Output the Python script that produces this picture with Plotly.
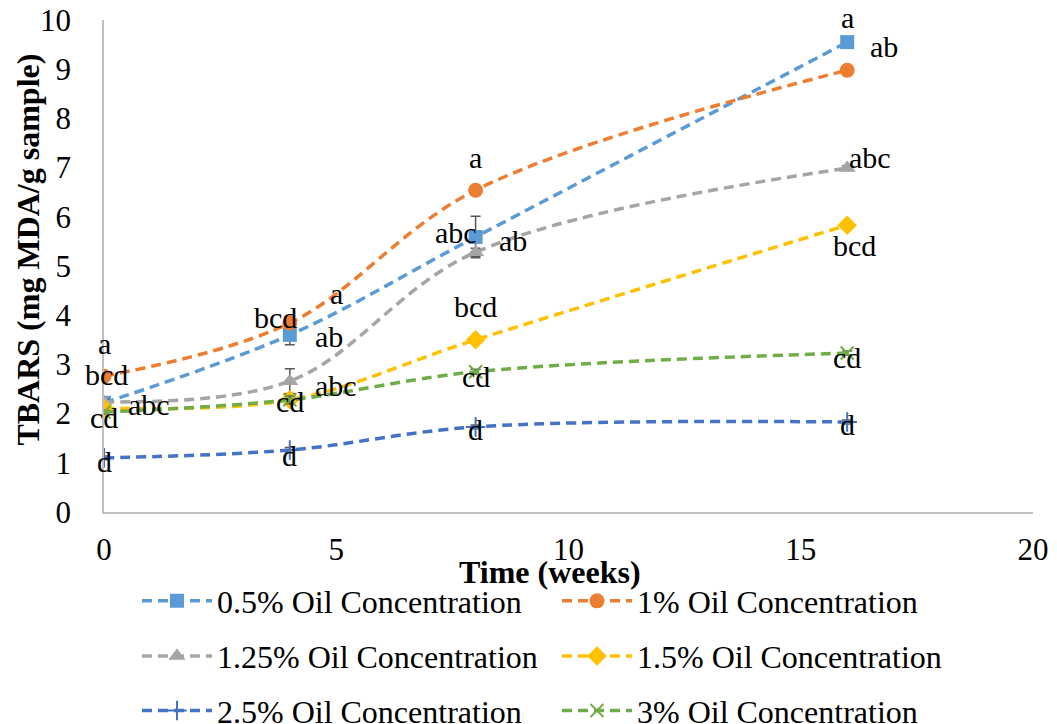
import plotly.graph_objects as go

# ---- data ----
weeks = [0, 4, 8, 16]
series_names = ["0.5% Oil Concentration", "1% Oil Concentration",
                "1.25% Oil Concentration", "1.5% Oil Concentration",
                "2.5% Oil Concentration", "3% Oil Concentration"]
tbars_05 = [2.22, 3.60, 5.59, 9.55]
tbars_10 = [2.76, 3.84, 6.54, 8.98]
tbars_125 = [2.24, 2.66, 5.28, 6.99]
tbars_15 = [2.11, 2.28, 3.50, 5.83]
tbars_25 = [1.10, 1.26, 1.73, 1.83]
tbars_30 = [2.03, 2.28, 2.85, 3.23]
err_05 = [0.05, 0.20, 0.42, 0.05]
err_10 = [0.05, 0.05, 0.05, 0.05]
err_125 = [0.05, 0.25, 0.08, 0.05]
err_15 = [0.04, 0.05, 0.06, 0.04]
err_25 = [0.04, 0.05, 0.04, 0.04]
err_30 = [0.04, 0.08, 0.05, 0.04]
values = [tbars_05, tbars_10, tbars_125, tbars_15, tbars_25, tbars_30]
errors = [err_05, err_10, err_125, err_15, err_25, err_30]

# significance letters: (series index, point index, text)
letters = [
    (1, 0, "a"), (1, 0, "bcd"), (0, 0, "abc"), (5, 0, "cd"), (4, 0, "d"),
    (1, 1, "bcd"), (1, 1, "a"), (0, 1, "ab"), (2, 1, "abc"), (5, 1, "cd"), (4, 1, "d"),
    (1, 2, "a"), (0, 2, "abc"), (2, 2, "ab"), (3, 2, "bcd"), (5, 2, "cd"), (4, 2, "d"),
    (0, 3, "a"), (0, 3, "ab"), (2, 3, "abc"), (3, 3, "bcd"), (5, 3, "cd"), (4, 3, "d"),
]
x_ticks = [0, 5, 10, 15, 20]
y_ticks = list(range(0, 11))

# ---- styles ----
colors = ["#5B9BD5", "#ED7D31", "#A5A5A5", "#FFC000", "#4472C4", "#70AD47"]
symbols = ["square", "circle", "triangle-up", "diamond", "cross-thin", "x-thin"]
msizes = [14, 15, 15, 15, 14, 13]
legend_ids = ["legend", "legend2", "legend3", "legend4", "legend5", "legend6"]
legend_pos = [(0.0355, -0.181), (0.4876, -0.181), (0.0355, -0.293), (0.4876, -0.293),
              (0.0355, -0.404), (0.4876, -0.404)]
letter_shifts = [
    (0, 33), (2, 2), (45, -2), (0, -5), (0, -4),
    (-14, 6), (47, 30), (39, -2), (46, -4), (0, -2), (0, -5),
    (0, 33), (-20, 4), (37, 12), (0, 33), (0, -5), (0, -3),
    (0, 25), (37, -4), (23, 11), (7, -20), (0, -4), (0, -3),
]
FONT = "Liberation Serif"

fig = go.Figure()
for i, name in enumerate(series_names):
    thin = symbols[i].endswith("thin")
    fig.add_trace(go.Scatter(
        x=weeks, y=values[i], name=name, mode="lines+markers",
        line=dict(color=colors[i], width=3.5, dash="10px,6px", shape="spline", smoothing=1.0),
        marker=dict(symbol=symbols[i], size=msizes[i], color=colors[i],
                    line=dict(color=colors[i], width=2 if thin else 0)),
        error_y=dict(type="data", array=errors[i], color="#595959", thickness=1.5, width=5),
        legend=legend_ids[i],
    ))

for (si, pi, txt), (dx, dy) in zip(letters, letter_shifts):
    fig.add_annotation(x=weeks[pi], y=values[si][pi], text=txt, showarrow=False,
                       xshift=dx, yshift=dy, font=dict(family=FONT, size=30, color="black"))

fig.add_annotation(x=0.48, y=-0.122, xref="paper", yref="paper", text="<b>Time (weeks)</b>",
                   xanchor="center", yanchor="middle",
                   showarrow=False, font=dict(family=FONT, size=32, color="black"))
fig.add_annotation(x=-0.082, y=0.533, xref="paper", yref="paper", text="<b>TBARS (mg MDA/g sample)</b>",
                   xanchor="center", yanchor="middle",
                   showarrow=False, textangle=-90, font=dict(family=FONT, size=32, color="black"))

leg_common = dict(orientation="h", xanchor="left", yanchor="middle",
                  font=dict(family=FONT, size=32, color="black"),
                  bgcolor="rgba(0,0,0,0)", itemwidth=70)
legends = {}
for lid, (lx, ly) in zip(legend_ids, legend_pos):
    legends[lid] = dict(x=lx, y=ly, **leg_common)

# page body has an 8px margin, so the figure is 8px smaller each way
fig.update_layout(
    width=1049, height=716,
    margin=dict(l=96, r=24, t=12, b=212, autoexpand=False),
    paper_bgcolor="white", plot_bgcolor="white",
    font=dict(family=FONT, size=31, color="black"),
    xaxis=dict(range=[0, 20], tickvals=x_ticks, showgrid=False, zeroline=False,
               showline=True, linecolor="#BFBFBF", linewidth=1.5, ticks="",
               ticklabelstandoff=9, tickfont=dict(family=FONT, size=31), automargin=False,
               ticklabeloverflow="allow"),
    yaxis=dict(range=[0, 10], tickvals=y_ticks, showgrid=False, zeroline=False,
               showline=True, linecolor="#BFBFBF", linewidth=1.5, ticks="",
               ticklabelstandoff=25, tickfont=dict(family=FONT, size=31), automargin=False,
               ticklabeloverflow="allow"),
    showlegend=True,
    **legends,
)
fig.write_html("out.html")
